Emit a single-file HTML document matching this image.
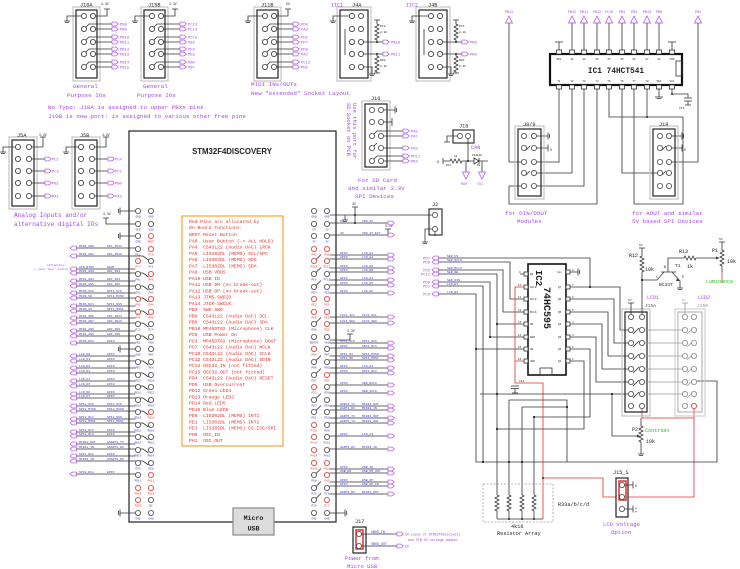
<!DOCTYPE html>
<html><head><meta charset="utf-8">
<style>
html,body{margin:0;padding:0;background:#fff;}
svg{display:block;}
text{font-family:"Liberation Mono","DejaVu Sans Mono",monospace;}
.pu{fill:#a844e8;}
.bl{fill:#3434d0;}
.rd{fill:#e5302a;}
.gr{fill:#22bb22;}
.k{fill:#222;}
.pl{font-size:3.8px;fill:#a844e8;}
.sl{font-size:3.1px;fill:#3434d0;}
.pn{font-size:2.8px;fill:#3434d0;text-anchor:middle;}
.pr{font-size:2.8px;fill:#e5302a;text-anchor:middle;}
.t6{font-size:5.9px;fill:#a844e8;}
.t5{font-size:5.2px;fill:#222;}
</style></head><body>
<svg width="740" height="569" viewBox="0 0 740 569" xmlns="http://www.w3.org/2000/svg">
<defs>
<circle id="c" r="2.6"/>
<path id="ar" d="M0,-1.9h4l2.4,1.9l-2.4,1.9h-4z"/>
<path id="al" d="M0,0l2.4,-1.9h4v3.8h-4z"/>
<path id="tu" d="M0,0l3.5,7h-7z"/>
<path id="td" d="M0,0l3.5,-7h-7z"/>
<g id="conn">
 <rect x="-3" y="7" width="27" height="74" fill="none" stroke="#b8b8b8"/>
 <rect x="0" y="10" width="21" height="68" fill="none" stroke="#222" stroke-width="1.2"/>
 <path fill="none" stroke="#333" stroke-width=".8" d="M5.4,16H-9V21M-12,21h6M-11,22.5h4M19.6,16H31V9M28,9h6M10,27L13,24H36M19.6,29H36M10,40L13,37H36M19.6,42H36M10,52L13,49H36M19.6,54H36M10,65L13,62H36M19.6,67H36"/>
 <g fill="#fff" stroke="#333" stroke-width=".8">
  <use href="#c" x="8" y="16"/><use href="#c" x="17" y="16"/>
  <use href="#c" x="8" y="29"/><use href="#c" x="17" y="29"/>
  <use href="#c" x="8" y="42"/><use href="#c" x="17" y="42"/>
  <use href="#c" x="8" y="54"/><use href="#c" x="17" y="54"/>
  <use href="#c" x="8" y="67"/><use href="#c" x="17" y="67"/>
 </g>
 <g fill="none" stroke="#a844e8" stroke-width=".6">
  <use href="#ar" x="36" y="24"/><use href="#ar" x="36" y="29"/>
  <use href="#ar" x="36" y="37"/><use href="#ar" x="36" y="42"/>
  <use href="#ar" x="36" y="49"/><use href="#ar" x="36" y="54"/>
  <use href="#ar" x="36" y="62"/><use href="#ar" x="36" y="67"/>
 </g>
</g>
<g id="conn5">
 <rect x="-3" y="-3" width="28" height="72" fill="none" stroke="#b8b8b8"/>
 <rect x="0" y="0" width="22" height="66" fill="none" stroke="#222" stroke-width="1.2"/>
 <path fill="none" stroke="#333" stroke-width=".8" d="M3.4,7H-9V12M-12,12h6M-11,13.5h4M19.6,7H31V-3M28,-3h6M19.6,19H33M19.6,31H33M19.6,43H33M19.6,56H33M4,21l3,-5M4,33l3,-5M4,45l3,-5"/>
 <g fill="#fff" stroke="#333" stroke-width=".8">
  <use href="#c" x="6" y="7"/><use href="#c" x="17" y="7"/>
  <use href="#c" x="6" y="19"/><use href="#c" x="17" y="19"/>
  <use href="#c" x="6" y="31"/><use href="#c" x="17" y="31"/>
  <use href="#c" x="6" y="43"/><use href="#c" x="17" y="43"/>
  <use href="#c" x="6" y="56"/><use href="#c" x="17" y="56"/>
 </g>
 <g fill="none" stroke="#a844e8" stroke-width=".6">
  <use href="#ar" x="33" y="19"/><use href="#ar" x="33" y="31"/>
  <use href="#ar" x="33" y="43"/><use href="#ar" x="33" y="56"/>
 </g>
</g>
<g id="j4">
 <rect x="337" y="7" width="34" height="74" fill="none" stroke="#b8b8b8"/>
 <rect x="340" y="10" width="28" height="68" fill="none" stroke="#222" stroke-width="1.2"/>
 <path fill="none" stroke="#333" stroke-width=".8" d="M349.4,16H333V21M330,21h6M331,22.5h4M363.6,42H383M363.6,54H383M363.6,67H372V74M369,74h6M370,75.5h4M377,20V24l2,1l-4,2l4,2l-4,2l4,2l-4,2l4,2l-4,2l2,1V42M374,20h6M377,54V56l2,1l-4,2l4,2l-4,2l4,2l-4,2l4,2l-4,2l2,1V73M374,73h6M345,29v26"/>
 <g fill="#fff" stroke="#333" stroke-width=".8">
  <use href="#c" x="352" y="16"/><use href="#c" x="361" y="16"/>
  <use href="#c" x="352" y="29"/><use href="#c" x="361" y="29"/>
  <use href="#c" x="352" y="42"/><use href="#c" x="361" y="42"/>
  <use href="#c" x="352" y="54"/><use href="#c" x="361" y="54"/>
  <use href="#c" x="352" y="67"/><use href="#c" x="361" y="67"/>
 </g>
 <circle cx="377" cy="42" r="1" fill="#222"/><circle cx="377" cy="54" r="1" fill="#222"/>
 <g fill="none" stroke="#a844e8" stroke-width=".6"><use href="#ar" x="383" y="42"/><use href="#ar" x="383" y="54"/></g>
</g>
</defs>

<!-- ===== Top connectors ===== -->
<use href="#conn" transform="translate(76,0)"/>
<use href="#conn" transform="translate(144,0)"/>
<use href="#conn" transform="translate(257,0)"/>
<text x="80" y="6.5" class="t5">J10A</text><text x="101" y="5" style="font-size:3.2px" class="k">3.3V</text>
<text x="148" y="6.5" class="t5">J15B</text><text x="169" y="5" style="font-size:3.2px" class="k">3.3V</text>
<text x="261" y="6.5" class="t5">J11B</text><text x="286" y="5" style="font-size:3.2px" class="k">5V</text>
<g class="pl">
<text x="120" y="25.3">PB8</text><text x="120" y="30.3">PB9</text><text x="120" y="38.3">PB10</text><text x="120" y="43.3">PB11</text>
<text x="120" y="50.3">PB12</text><text x="120" y="55.3">PB13</text><text x="120" y="63.3">PB14</text><text x="120" y="68.3">PB15</text>
<text x="188" y="25.3">PC13</text><text x="188" y="30.3">PC14</text><text x="188" y="38.3">PC15</text><text x="188" y="43.3">PB2</text>
<text x="188" y="50.3">PE4</text><text x="188" y="55.3">PE5</text><text x="188" y="63.3">PB0</text><text x="188" y="68.3">PB7</text>
<text x="301" y="25.3">PD9</text><text x="301" y="30.3">PA3</text><text x="301" y="38.3">PD2</text><text x="301" y="43.3">PD7</text>
<text x="301" y="50.3">PD8</text><text x="301" y="55.3">PA2</text><text x="301" y="63.3">PC12</text><text x="301" y="68.3">PD5</text>
</g>
<text x="73" y="88" class="t6">General</text><text x="67" y="97" class="t6">Purpose IOs</text>
<text x="143" y="88" class="t6">General</text><text x="137" y="97" class="t6">Purpose IOs</text>
<text x="251" y="86" class="t6">MIDI INs/OUTs</text><text x="251" y="95" class="t6">New "extended" Socket Layout</text>
<text x="48" y="109" class="t6">No Typo: J10A is assigned to upper PBxx pins</text>
<text x="48" y="118" class="t6">J10B is new port: is assigned to various other free pins</text>

<!-- J4A / J4B -->
<use href="#j4"/>
<use href="#j4" transform="translate(79,0)"/>
<text x="331" y="6.5" style="font-size:5px" class="pu">IIC1</text><text x="352" y="6.5" class="t5">J4A</text>
<text x="406" y="6.5" style="font-size:5px" class="pu">IIC2</text><text x="428" y="6.5" class="t5">J4B</text>
<g class="pl"><text x="391" y="43.3">PB10</text><text x="391" y="55.3">PB11</text><text x="470" y="43.3">PB6</text><text x="470" y="55.3">PB9</text></g>
<g style="font-size:3px" class="k"><text x="380" y="27">R7a</text><text x="380" y="33">2.2k</text><text x="380" y="61">R8a</text><text x="380" y="67">2.2k</text>
<text x="459" y="27">R7b</text><text x="459" y="33">2.2k</text><text x="459" y="61">R8b</text><text x="459" y="67">2.2k</text></g>

<!-- J5A / J5B -->
<use href="#conn5" transform="translate(12,140)"/>
<use href="#conn5" transform="translate(75,140)"/>
<text x="17" y="137" class="t5">J5A</text><text x="39" y="136" style="font-size:3.2px" class="k">3.3V</text>
<text x="80" y="137" class="t5">J5B</text><text x="102" y="136" style="font-size:3.2px" class="k">3.3V</text>
<g class="pl">
<text x="52" y="160.3">PC1</text><text x="52" y="172.3">PC2</text><text x="52" y="184.3">PB1</text><text x="52" y="197.3">PA1</text>
<text x="115" y="160.3">PC4</text><text x="115" y="172.3">PC5</text><text x="115" y="184.3">PB0</text><text x="115" y="197.3">PA3</text>
</g>
<text x="14" y="217" class="t6" style="font-size:6.1px">Analog Inputs and/or</text>
<text x="14" y="226" class="t6" style="font-size:6.1px">alternative digital IOs</text>

<!-- ===== STM32 board ===== -->
<rect x="129" y="131" width="207" height="391" fill="none" stroke="#222" stroke-width="1.2"/>
<text x="232" y="154" text-anchor="middle" style="font-family:'Liberation Sans',sans-serif;font-weight:bold;font-size:7.8px" class="k">STM32F4DISCOVERY</text>

<!-- left side lines -->
<path fill="none" stroke="#333" stroke-width=".8" d="
M76,248H135.4M76,256H143L148.5,260
M76,269H135.4M76,273H143L148.5,277
M76,281H135.4M76,286H143L148.5,290
M76,293H135.4M76,298H143L148.5,302
M76,306H135.4M76,311H143L148.5,315
M76,318H135.4M76,323H143L148.5,327
M76,331H135.4M76,336H143L148.5,340
M76,343H135.4
M76,356H135.4M76,361H143L148.5,365
M76,368H135.4M76,373H143L148.5,377
M76,381H135.4M76,386H143L148.5,390
M76,394H135.4M76,398H143L148.5,402
M76,406H135.4M76,411H143L148.5,415
M76,419H135.4M76,423H143L148.5,427
M76,432H135.4M76,436H143L148.5,440
M76,444H135.4M76,449H143L148.5,453
M76,456H135.4M76,461H143L148.5,465
M76,474H135.4
M135.4,211H120M120,207.5v7M118.5,209v4
M135.4,224H106V218M103,218h6
M135.4,236H120M120,232.5v7M118.5,234v4
M135.4,349H120M120,345.5v7M118.5,347v4
M135.4,513H120M120,509.5v7M118.5,511v4"/>
<g fill="none" stroke="#a844e8" stroke-width=".6">
<use href="#al" x="70" y="248"/><use href="#al" x="70" y="256"/><use href="#al" x="70" y="269"/><use href="#al" x="70" y="273"/>
<use href="#al" x="70" y="281"/><use href="#al" x="70" y="286"/><use href="#al" x="70" y="293"/><use href="#al" x="70" y="298"/>
<use href="#al" x="70" y="306"/><use href="#al" x="70" y="311"/><use href="#al" x="70" y="318"/><use href="#al" x="70" y="323"/>
<use href="#al" x="70" y="331"/><use href="#al" x="70" y="336"/><use href="#al" x="70" y="343"/>
<use href="#al" x="70" y="356"/><use href="#al" x="70" y="361"/><use href="#al" x="70" y="368"/><use href="#al" x="70" y="373"/>
<use href="#al" x="70" y="381"/><use href="#al" x="70" y="386"/><use href="#al" x="70" y="394"/><use href="#al" x="70" y="398"/>
<use href="#al" x="70" y="406"/><use href="#al" x="70" y="411"/><use href="#al" x="70" y="419"/><use href="#al" x="70" y="423"/>
<use href="#al" x="70" y="432"/><use href="#al" x="70" y="436"/><use href="#al" x="70" y="444"/><use href="#al" x="70" y="449"/>
<use href="#al" x="70" y="456"/><use href="#al" x="70" y="461"/><use href="#al" x="70" y="474"/>
</g>
<g class="sl">
<text x="79" y="247.2">MIDI_AN0</text><text x="107" y="247.2">ADC_IN11</text>
<text x="79" y="255.2">MIDI_AN1</text><text x="107" y="255.2">ADC_IN10</text>
<text x="79" y="268.2">AIN_BTN0</text><text x="107" y="268.2">WKUP</text>
<text x="79" y="272.2">MIDI_AN3</text><text x="107" y="272.2">ADC_IN3</text>
<text x="79" y="280.2">MIDI_AN4</text><text x="107" y="280.2">ADC_IN4</text>
<text x="79" y="285.2">MIDI_AN5</text><text x="107" y="285.2">ADC_IN5</text>
<text x="79" y="292.2">MIOS_SCK</text><text x="107" y="292.2">SPI1_SCK</text>
<text x="79" y="297.2">MIOS_SO</text><text x="107" y="297.2">SPI1_MISO</text>
<text x="79" y="305.2">MIOS_RC1</text><text x="107" y="305.2">SPI1_NSS</text>
<text x="79" y="310.2">MIOS_SI</text><text x="107" y="310.2">SPI1_MOSI</text>
<text x="79" y="317.2">MIDI_AN6</text><text x="107" y="317.2">ADC_IN14</text>
<text x="79" y="322.2">MIDI_AN7</text><text x="107" y="322.2">ADC_IN15</text>
<text x="79" y="330.2">MIDI_AN8</text><text x="107" y="330.2">ADC_IN8</text>
<text x="79" y="335.2">MIDI_AN9</text><text x="107" y="335.2">ADC_IN9</text>
<text x="79" y="342.2">MIOS_RC2</text><text x="107" y="342.2">GPIO</text>
<text x="79" y="355.2">LCD_D0</text><text x="107" y="355.2">GPIO</text>
<text x="79" y="360.2">LCD_D1</text><text x="107" y="360.2">GPIO</text>
<text x="79" y="367.2">LCD_D2</text><text x="107" y="367.2">GPIO</text>
<text x="79" y="372.2">LCD_D3</text><text x="107" y="372.2">GPIO</text>
<text x="79" y="380.2">LCD_D4</text><text x="107" y="380.2">GPIO</text>
<text x="79" y="385.2">LCD_D5</text><text x="107" y="385.2">GPIO</text>
<text x="79" y="393.2">LCD_D6</text><text x="107" y="393.2">GPIO</text>
<text x="79" y="397.2">LCD_D7</text><text x="107" y="397.2">GPIO</text>
<text x="79" y="405.2">SPI2_SCK</text><text x="107" y="405.2">SPI2_SCK</text>
<text x="79" y="410.2">SPI2_MISO</text><text x="107" y="410.2">SPI2_MISO</text>
<text x="79" y="418.2">SPI2_RC1</text><text x="107" y="418.2">SPI2_NSS</text>
<text x="79" y="422.2">SPI2_MOSI</text><text x="107" y="422.2">SPI2_MOSI</text>
<text x="79" y="431.2">SPI2_RC2</text><text x="107" y="431.2">GPIO</text>
<text x="79" y="435.2">SPI2_RC3</text><text x="107" y="435.2">GPIO</text>
<text x="79" y="443.2">MIDI1_OUT</text><text x="107" y="443.2">USART3_TX</text>
<text x="79" y="448.2">MIDI1_IN</text><text x="107" y="448.2">USART3_RX</text>
<text x="79" y="455.2">SPI1_RC2</text><text x="107" y="455.2">GPIO</text>
<text x="79" y="460.2">MIDI3_IN</text><text x="107" y="460.2">USART6_RX</text>
<text x="79" y="473.2">SPI0_RC1</text><text x="107" y="473.2">GPIO</text>
</g>
<text x="47" y="266" style="font-size:2.8px" class="pu">(Attention:</text>
<text x="33" y="270" style="font-size:2.8px" class="pu">-&gt; push 'User' button</text>
<text x="103" y="215" style="font-size:3.2px" class="k">3.3V</text>

<!-- board pin circles -->
<g fill="#fff" stroke="#444" stroke-width=".8">
<use href="#c" x="138" y="211"/><use href="#c" x="138" y="224"/><use href="#c" x="138" y="236"/><use href="#c" x="138" y="249"/><use href="#c" x="138" y="274"/><use href="#c" x="138" y="287"/><use href="#c" x="138" y="324"/><use href="#c" x="138" y="337"/><use href="#c" x="138" y="349"/><use href="#c" x="138" y="362"/><use href="#c" x="138" y="375"/><use href="#c" x="138" y="387"/><use href="#c" x="138" y="400"/><use href="#c" x="138" y="412"/><use href="#c" x="138" y="425"/><use href="#c" x="138" y="437"/><use href="#c" x="138" y="450"/><use href="#c" x="138" y="463"/><use href="#c" x="138" y="475"/><use href="#c" x="138" y="513"/>
<use href="#c" x="151" y="211"/><use href="#c" x="151" y="224"/><use href="#c" x="151" y="261"/><use href="#c" x="151" y="287"/><use href="#c" x="151" y="324"/><use href="#c" x="151" y="337"/><use href="#c" x="151" y="349"/><use href="#c" x="151" y="362"/><use href="#c" x="151" y="375"/><use href="#c" x="151" y="387"/><use href="#c" x="151" y="400"/><use href="#c" x="151" y="425"/><use href="#c" x="151" y="437"/><use href="#c" x="151" y="450"/><use href="#c" x="151" y="463"/><use href="#c" x="151" y="500"/><use href="#c" x="151" y="513"/>
<use href="#c" x="314" y="211"/><use href="#c" x="314" y="224"/><use href="#c" x="314" y="236"/><use href="#c" x="314" y="274"/><use href="#c" x="314" y="287"/><use href="#c" x="314" y="324"/><use href="#c" x="314" y="337"/><use href="#c" x="314" y="362"/><use href="#c" x="314" y="375"/><use href="#c" x="314" y="400"/><use href="#c" x="314" y="412"/><use href="#c" x="314" y="475"/><use href="#c" x="314" y="488"/><use href="#c" x="314" y="500"/><use href="#c" x="314" y="513"/>
<use href="#c" x="327" y="211"/><use href="#c" x="327" y="224"/><use href="#c" x="327" y="236"/><use href="#c" x="327" y="274"/><use href="#c" x="327" y="287"/><use href="#c" x="327" y="337"/><use href="#c" x="327" y="349"/><use href="#c" x="327" y="362"/><use href="#c" x="327" y="387"/><use href="#c" x="327" y="400"/><use href="#c" x="327" y="412"/><use href="#c" x="327" y="425"/><use href="#c" x="327" y="437"/><use href="#c" x="327" y="450"/><use href="#c" x="327" y="488"/><use href="#c" x="327" y="513"/>
</g>
<g fill="#fff" stroke="#e5302a" stroke-width=".8">
<use href="#c" x="138" y="261"/><use href="#c" x="138" y="299"/><use href="#c" x="138" y="312"/><use href="#c" x="138" y="488"/><use href="#c" x="138" y="500"/>
<use href="#c" x="151" y="236"/><use href="#c" x="151" y="249"/><use href="#c" x="151" y="274"/><use href="#c" x="151" y="299"/><use href="#c" x="151" y="312"/><use href="#c" x="151" y="412"/><use href="#c" x="151" y="475"/><use href="#c" x="151" y="488"/>
<use href="#c" x="314" y="249"/><use href="#c" x="314" y="261"/><use href="#c" x="314" y="299"/><use href="#c" x="314" y="312"/><use href="#c" x="314" y="349"/><use href="#c" x="314" y="387"/><use href="#c" x="314" y="425"/><use href="#c" x="314" y="437"/><use href="#c" x="314" y="450"/><use href="#c" x="314" y="463"/>
<use href="#c" x="327" y="249"/><use href="#c" x="327" y="261"/><use href="#c" x="327" y="299"/><use href="#c" x="327" y="312"/><use href="#c" x="327" y="324"/><use href="#c" x="327" y="375"/><use href="#c" x="327" y="463"/><use href="#c" x="327" y="475"/><use href="#c" x="327" y="500"/>
</g>
<!-- board pin labels -->
<g class="pn">
<text x="138" y="217.3">GND</text><text x="138" y="230.3">VDD</text><text x="138" y="242.3">GND</text><text x="138" y="255.3">PC1</text><text x="138" y="280.3">PA1</text><text x="138" y="293.3">PA3</text><text x="138" y="330.3">PC5</text><text x="138" y="343.3">PB1</text><text x="138" y="355.3">GND</text><text x="138" y="368.3">PE7</text><text x="138" y="381.3">PE9</text><text x="138" y="393.3">PE11</text><text x="138" y="406.3">PE13</text><text x="138" y="418.3">PE15</text><text x="138" y="431.3">PB11</text><text x="138" y="443.3">PB13</text><text x="138" y="456.3">PB15</text><text x="138" y="469.3">PD9</text><text x="138" y="481.3">PD11</text><text x="138" y="519.3">GND</text>
<text x="151" y="217.3">GND</text><text x="151" y="230.3">VDD</text><text x="151" y="267.3">PC2</text><text x="151" y="293.3">PA2</text><text x="151" y="330.3">PC4</text><text x="151" y="343.3">PB0</text><text x="151" y="355.3">PB2</text><text x="151" y="368.3">PE8</text><text x="151" y="381.3">PE10</text><text x="151" y="393.3">PE12</text><text x="151" y="406.3">PE14</text><text x="151" y="431.3">PB10</text><text x="151" y="443.3">PB12</text><text x="151" y="456.3">PB14</text><text x="151" y="469.3">PD8</text><text x="151" y="506.3">NC</text><text x="151" y="519.3">GND</text>
<text x="314" y="217.3">GND</text><text x="314" y="230.3">5V</text><text x="314" y="242.3">3V</text><text x="314" y="280.3">PE6</text><text x="314" y="293.3">PE4</text><text x="314" y="330.3">PB8</text><text x="314" y="343.3">BOOT0</text><text x="314" y="368.3">PB4</text><text x="314" y="381.3">PD7</text><text x="314" y="406.3">PD3</text><text x="314" y="418.3">PD1</text><text x="314" y="481.3">PA8</text><text x="314" y="494.3">PC8</text><text x="314" y="506.3">PC6</text><text x="314" y="519.3">GND</text>
<text x="327" y="217.3">GND</text><text x="327" y="230.3">5V</text><text x="327" y="242.3">3V</text><text x="327" y="280.3">PC13</text><text x="327" y="293.3">PE5</text><text x="327" y="343.3">VDD</text><text x="327" y="355.3">PB7</text><text x="327" y="368.3">PB5</text><text x="327" y="393.3">PD6</text><text x="327" y="406.3">PD4</text><text x="327" y="418.3">PD2</text><text x="327" y="431.3">PD0</text><text x="327" y="443.3">PC11</text><text x="327" y="456.3">PA15</text><text x="327" y="494.3">PC9</text><text x="327" y="519.3">GND</text>
</g>
<g class="pr">
<text x="138" y="267.3">PC3</text><text x="138" y="305.3">PA5</text><text x="138" y="318.3">PA7</text><text x="138" y="494.3">PD13</text><text x="138" y="506.3">PD15</text>
<text x="151" y="242.3">NRST</text><text x="151" y="255.3">PC0</text><text x="151" y="280.3">PA0</text><text x="151" y="305.3">PA4</text><text x="151" y="318.3">PA6</text><text x="151" y="418.3">PB10</text><text x="151" y="481.3">PD12</text><text x="151" y="494.3">PD14</text>
<text x="314" y="255.3">PH0</text><text x="314" y="267.3">PC14</text><text x="314" y="305.3">PE2</text><text x="314" y="318.3">PE0</text><text x="314" y="355.3">PB6</text><text x="314" y="393.3">PD5</text><text x="314" y="431.3">PC12</text><text x="314" y="443.3">PC10</text><text x="314" y="456.3">PA14</text><text x="314" y="469.3">PA10</text>
<text x="327" y="255.3">PH1</text><text x="327" y="267.3">PC15</text><text x="327" y="305.3">PE3</text><text x="327" y="318.3">PE1</text><text x="327" y="330.3">PB9</text><text x="327" y="381.3">PB3</text><text x="327" y="469.3">PA13</text><text x="327" y="481.3">PA9</text><text x="327" y="506.3">PC7</text>
</g>

<!-- right side lines -->
<path fill="none" stroke="#333" stroke-width=".8" d="
M329.6,215H432.4M345,215v5M342,220h6M343,221.5h4M355,207V223M352,207h6
M329.6,223H388M329.6,235H388M388,229V235M385,229h6
M329.6,255H388M329.6,259H388M329.6,268H388M329.6,272H388M329.6,280H388M329.6,285H388M329.6,293H388
M329.6,317H388M329.6,323H388M329.6,340H350V334M347,334h6
M329.6,343H388M329.6,348H388M329.6,356H388M329.6,360H388M329.6,368H388M329.6,373H388
M329.6,385H388M329.6,393H388M329.6,406H388M329.6,410H388M329.6,418H388M329.6,423H388
M329.6,436H388M329.6,449H388M329.6,469H388M329.6,473H388M329.6,482H388M329.6,486H388M329.6,494H388
M329.6,513H345M345,509.5v7M346.5,511v4
M316,259.5l5,-5M316,272.5l5,-5M316,285.5l5,-5M316,322.5l5,-5M316,360.5l5,-5M316,373.5l5,-5M316,398.5l5,-5M316,410.5l5,-5M316,473.5l5,-5M316,486.5l5,-5M316,498.5l5,-5
M435,231.6V236"/>
<circle cx="355" cy="215" r="1" fill="#222"/><circle cx="355" cy="223" r="1" fill="#222"/>
<text x="352" y="205" style="font-size:3.2px" class="k">3V</text>
<text x="385" y="227" style="font-size:3.2px" class="k">3.3V</text>
<text x="347" y="332" style="font-size:3.2px" class="k">3.3V</text>
<g fill="none" stroke="#a844e8" stroke-width=".6">
<use href="#ar" x="388" y="223"/><use href="#ar" x="388" y="235"/>
<use href="#ar" x="388" y="255"/><use href="#ar" x="388" y="259"/><use href="#ar" x="388" y="268"/><use href="#ar" x="388" y="272"/><use href="#ar" x="388" y="280"/><use href="#ar" x="388" y="285"/><use href="#ar" x="388" y="293"/>
<use href="#ar" x="388" y="317"/><use href="#ar" x="388" y="323"/><use href="#ar" x="388" y="343"/><use href="#ar" x="388" y="348"/><use href="#ar" x="388" y="356"/><use href="#ar" x="388" y="360"/><use href="#ar" x="388" y="368"/><use href="#ar" x="388" y="373"/>
<use href="#ar" x="388" y="385"/><use href="#ar" x="388" y="393"/><use href="#ar" x="388" y="406"/><use href="#ar" x="388" y="410"/><use href="#ar" x="388" y="418"/><use href="#ar" x="388" y="423"/>
<use href="#ar" x="388" y="436"/><use href="#ar" x="388" y="449"/><use href="#ar" x="388" y="469"/><use href="#ar" x="388" y="473"/><use href="#ar" x="388" y="482"/><use href="#ar" x="388" y="486"/><use href="#ar" x="388" y="494"/>
</g>
<g class="sl">
<text x="340" y="222.2">5V</text><text x="362" y="222.2">VDD_5V</text>
<text x="340" y="234.2">3V</text><text x="362" y="234.2">VDD_3V_EXT</text>
<text x="340" y="254.2">GPIO</text><text x="362" y="254.2">LCD_E1</text>
<text x="340" y="258.2">GPIO</text><text x="362" y="258.2">LCD_E2</text>
<text x="340" y="267.2">GPIO</text><text x="362" y="267.2">LCD_RS</text>
<text x="340" y="271.2">GPIO</text><text x="362" y="271.2">LCD_RW</text>
<text x="340" y="279.2">GPIO</text><text x="362" y="279.2">LCD_D4</text>
<text x="340" y="284.2">GPIO</text><text x="362" y="284.2">LCD_D5</text>
<text x="340" y="292.2">GPIO</text><text x="362" y="292.2">LCD_D6</text>
<text x="340" y="316.2">I2C1_SCL</text><text x="362" y="316.2">IIC1_SCL</text>
<text x="340" y="322.2">I2C1_SDA</text><text x="362" y="322.2">IIC1_SDA</text>
<text x="340" y="342.2">SPI1_SCK</text><text x="362" y="342.2">SPI1_SCK</text>
<text x="340" y="347.2">GPIO</text><text x="362" y="347.2">SPI1_RC1</text>
<text x="340" y="355.2">SPI1_MI</text><text x="362" y="355.2">SPI1_MISO</text>
<text x="340" y="359.2">SPI1_MO</text><text x="362" y="359.2">SPI1_MOSI</text>
<text x="340" y="367.2">GPIO</text><text x="362" y="367.2">LCD_D1</text>
<text x="340" y="372.2">GPIO</text><text x="362" y="372.2">SPI1_RC2</text>
<text x="340" y="384.2">GPIO</text><text x="362" y="384.2">SER_RCLK</text>
<text x="340" y="392.2">GPIO</text><text x="362" y="392.2">SER_SCLK</text>
<text x="340" y="405.2">UART4_TX</text><text x="362" y="405.2">MIDI4_OUT</text>
<text x="340" y="409.2">UART4_RX</text><text x="362" y="409.2">MIDI4_IN</text>
<text x="340" y="417.2">UART6_TX</text><text x="362" y="417.2">MIDI3_OUT</text>
<text x="340" y="422.2">UART5_TX</text><text x="362" y="422.2">MIDI2_OUT</text>
<text x="340" y="435.2">GPIO</text><text x="362" y="435.2">LCD_CS</text>
<text x="340" y="448.2">UART5_RX</text><text x="362" y="448.2">MIDI2_IN</text>
<text x="340" y="468.2">GPIO</text><text x="362" y="468.2">USB_ID</text>
<text x="340" y="472.2">USB_DM</text><text x="362" y="472.2">USB_DM_OUT</text>
<text x="340" y="481.2">GPIO</text><text x="362" y="481.2">USB_DP</text>
<text x="340" y="485.2">GPIO</text><text x="362" y="485.2">USB_DP_IN</text>
<text x="340" y="493.2">UART3_RX</text><text x="362" y="493.2">MIDI1_OUT</text>
</g>

<!-- Micro USB -->
<rect x="233" y="508" width="41" height="27" fill="#dcdcdc" stroke="#8a8a8a" stroke-width="1.2"/>
<text x="253.5" y="520" text-anchor="middle" style="font-weight:bold;font-size:6.6px" class="k">Micro</text>
<text x="253.5" y="530.5" text-anchor="middle" style="font-weight:bold;font-size:6.6px" class="k">USB</text>

<!-- Orange info box -->
<rect x="182" y="216" width="101" height="230" fill="none" stroke="#f0a020" stroke-width="1.1"/>
<text xml:space="preserve" style="font-size:4.7px" class="rd"><tspan x="189" y="223">Red Pins are allocated by</tspan><tspan x="189" y="229">On-Board Functions:</tspan><tspan x="189" y="236.2">NRST Reset Button</tspan><tspan x="189" y="242.4">PA0  User Button (-&gt; ALL HOLD)</tspan><tspan x="189" y="248.7">PA4  CS43L22 (Audio DAC) LRCK</tspan><tspan x="189" y="254.9">PA5  LIS302DL (MEMS) SCL/SPC</tspan><tspan x="189" y="261.2">PA6  LIS302DL (MEMS) SDO</tspan><tspan x="189" y="267.4">PA7  LIS302DL (MEMS) SDA</tspan><tspan x="189" y="273.6">PA9  USB VBUS</tspan><tspan x="189" y="279.9">PA10 USB ID</tspan><tspan x="189" y="286.1">PA11 USB DM (no break-out)</tspan><tspan x="189" y="292.4">PA12 USB DP (no break-out)</tspan><tspan x="189" y="298.6">PA13 JTMS-SWDIO</tspan><tspan x="189" y="304.8">PA14 JTCK-SWCLK</tspan><tspan x="189" y="311.1">PB3  SWD SWO</tspan><tspan x="189" y="317.3">PB6  CS43L22 (Audio DAC) SCL</tspan><tspan x="189" y="323.6">PB9  CS43L22 (Audio DAC) SDA</tspan><tspan x="189" y="329.8">PB10 MP45DT02 (Microphone) CLK</tspan><tspan x="189" y="336">PC0  USB Power On</tspan><tspan x="189" y="342.3">PC3  MP45DT02 (Microphone) DOUT</tspan><tspan x="189" y="348.5">PC7  CS43L22 (Audio DAC) MCLK</tspan><tspan x="189" y="354.8">PC10 CS43L22 (Audio DAC) SCLK</tspan><tspan x="189" y="361">PC12 CS43L22 (Audio DAC) SDIN</tspan><tspan x="189" y="367.2">PC14 OSC32_IN (not fitted)</tspan><tspan x="189" y="373.5">PC15 OSC32_OUT (not fitted)</tspan><tspan x="189" y="379.7">PD4  CS43L22 (Audio DAC) RESET</tspan><tspan x="189" y="386">PD5  USB Overcurrent</tspan><tspan x="189" y="392.2">PD12 Green LED4</tspan><tspan x="189" y="398.4">PD13 Orange LED3</tspan><tspan x="189" y="404.7">PD14 Red LED5</tspan><tspan x="189" y="410.9">PD15 Blue LED6</tspan><tspan x="189" y="417.2">PE0  LIS302DL (MEMS) INT1</tspan><tspan x="189" y="423.4">PE1  LIS302DL (MEMS) INT2</tspan><tspan x="189" y="429.6">PE3  LIS302DL (MEMS) CS_I2C/SPI</tspan><tspan x="189" y="435.9">PH0  OSC_IN</tspan><tspan x="189" y="442.1">PH1  OSC_OUT</tspan></text>

<!-- J2 -->
<rect x="429" y="209" width="13" height="26" fill="none" stroke="#222" stroke-width="1.1"/>
<path fill="none" stroke="#333" stroke-width=".8" d="M432.4,229H425V242M422,242h6M423,243.5h4"/>
<g fill="#fff" stroke="#444" stroke-width=".8"><use href="#c" x="435" y="215"/><use href="#c" x="435" y="229"/></g>
<text x="432" y="206" class="t5">J2</text>

<!-- J16 -->
<rect x="362" y="101" width="28" height="69" fill="none" stroke="#b8b8b8"/>
<rect x="365" y="104" width="22" height="63" fill="none" stroke="#222" stroke-width="1.2"/>
<path fill="none" stroke="#333" stroke-width=".8" d="M383.6,110H395M395,106.5v7M396.5,108v4M383.6,122H392M392,118v8M374,134l3,-3H403M383.6,136H403M383.6,148H403M374,159l3,-3H403M383.6,161H403M374,146l3,-3"/>
<g fill="#fff" stroke="#444" stroke-width=".8">
<use href="#c" x="372" y="110"/><use href="#c" x="381" y="110"/><use href="#c" x="372" y="122"/><use href="#c" x="381" y="122"/>
<use href="#c" x="372" y="136"/><use href="#c" x="381" y="136"/><use href="#c" x="372" y="148"/><use href="#c" x="381" y="148"/>
<use href="#c" x="372" y="161"/><use href="#c" x="381" y="161"/></g>
<g fill="none" stroke="#a844e8" stroke-width=".6"><use href="#ar" x="403" y="131"/><use href="#ar" x="403" y="136"/><use href="#ar" x="403" y="148"/><use href="#ar" x="403" y="156"/><use href="#ar" x="403" y="161"/></g>
<g class="pl"><text x="411" y="132.3">PA5</text><text x="411" y="137.3">PA7</text><text x="411" y="149.3">PB3</text><text x="411" y="157.3">PD11</text><text x="411" y="162.3">PB4</text></g>
<text x="371" y="100" class="t5">J16</text>
<text transform="translate(353,103) rotate(90)" style="font-size:5.5px" class="pu">Use this port for</text>
<text transform="translate(347,103) rotate(90)" style="font-size:5.5px" class="pu">SD Socket on PCB</text>
<text x="358" y="182" class="t6">For SD Card</text>
<text x="348" y="190" class="t6">and similar 3.3V</text>
<text x="355" y="198" class="t6">SPI Devices</text>

<!-- J18 CAN -->
<rect x="453" y="130" width="21" height="13" fill="none" stroke="#222" stroke-width="1.1"/>
<path fill="none" stroke="#333" stroke-width=".8" d="M457.4,136H447V142M444,142h6M468,138.6V161M443,158v6M443,161H450l1,-2l2,4l2,-4l2,4l2,-4l2,4l1,-2H474M474,158l5,3l-5,3zM479,158v6M479,161H488M466,161V172M482,161V172"/>
<circle cx="468" cy="161" r="1" fill="#222"/>
<g fill="#fff" stroke="#444" stroke-width=".8"><use href="#c" x="460" y="136"/><use href="#c" x="468" y="136"/></g>
<g fill="none" stroke="#a844e8" stroke-width=".7"><use href="#td" x="466" y="179"/><use href="#td" x="482" y="179"/></g>
<text x="459" y="127.5" class="t5">J18</text>
<text x="471" y="149" style="font-size:5.2px" class="pu">CAN</text>
<text x="437" y="163" style="font-size:4px" class="k">5</text>
<text x="446" y="166" style="font-size:2.8px" class="k">R11</text>
<text x="454" y="157" style="font-size:2.8px" class="k">10</text>
<text x="472" y="156" style="font-size:2.8px" class="k">1N4148</text>
<text x="477" y="166" style="font-size:2.8px" class="k">D1</text>
<text x="461" y="185" style="font-size:3.4px" class="pu">RX0</text>
<text x="477" y="185" style="font-size:3.4px" class="pu">TX1</text>

<!-- IC1 74HCT541 -->
<rect x="550" y="54" width="132" height="31" fill="none" stroke="#111" stroke-width="2.2"/>
<rect x="676" y="61" width="6" height="15" fill="none" stroke="#333" stroke-width=".8"/>
<text x="616" y="73" text-anchor="middle" style="font-weight:bold;font-size:7.8px" class="k">IC1 74HCT541</text>
<g fill="#fff" stroke="#333" stroke-width=".8">
<rect x="556.5" y="50" width="5" height="4"/><rect x="569.5" y="50" width="5" height="4"/><rect x="581.5" y="50" width="5" height="4"/><rect x="594.5" y="50" width="5" height="4"/><rect x="606.5" y="50" width="5" height="4"/><rect x="619.5" y="50" width="5" height="4"/><rect x="631.5" y="50" width="5" height="4"/><rect x="644.5" y="50" width="5" height="4"/><rect x="656.5" y="50" width="5" height="4"/><rect x="669.5" y="50" width="5" height="4"/>
<rect x="556.5" y="85" width="5" height="4"/><rect x="569.5" y="85" width="5" height="4"/><rect x="581.5" y="85" width="5" height="4"/><rect x="594.5" y="85" width="5" height="4"/><rect x="606.5" y="85" width="5" height="4"/><rect x="619.5" y="85" width="5" height="4"/><rect x="631.5" y="85" width="5" height="4"/><rect x="644.5" y="85" width="5" height="4"/><rect x="656.5" y="85" width="5" height="4"/><rect x="669.5" y="85" width="5" height="4"/>
</g>
<g style="font-size:2.6px" class="k" text-anchor="middle">
<text x="559" y="60">OE1</text><text x="572" y="60">A1</text><text x="584" y="60">A2</text><text x="597" y="60">A3</text><text x="609" y="60">A4</text><text x="622" y="60">A5</text><text x="634" y="60">A6</text><text x="647" y="60">A7</text><text x="659" y="60">A8</text><text x="672" y="60">GND</text>
<text x="559" y="82">Y1</text><text x="572" y="82">Y2</text><text x="584" y="82">Y3</text><text x="597" y="82">Y4</text><text x="609" y="82">Y5</text><text x="622" y="82">Y6</text><text x="634" y="82">Y7</text><text x="647" y="82">Y8</text><text x="659" y="82">OE2</text><text x="672" y="82">VCC</text>
</g>
<path fill="none" stroke="#333" stroke-width=".8" d="
M559,50V42M555,42h8M672,50V42M668,42h8
M572,50V23M584,50V23M597,50V23M609,50V23M622,50V23M634,50V23M647,50V23M659,50V23
M509,23V162H521.4M509,186V204H597V89M509,186H521.4
M559,89V162H536.6M572,89V173H536.6M584,89V186H536.6
M609,89V117H683V204H634V89M647,89V117
M622,89V173H657.4
M659,89V97M655,97h8M656.5,98.5h5
M672,89V94H688V98M684,98h8M684,101h8M688,101V105M685,105h6
M536.6,136H548M548,132.5v7M549.5,134v4M536.6,148H548M548,144.5v7
M671.6,136H682M682,132.5v7M683.5,134v4M671.6,148H682M682,144.5v7
M698,23V162H671.6
M526,150l4,-4M526,175l4,-4M662,150l4,-4M662,175l4,-4"/>
<circle cx="672" cy="94" r="1" fill="#222"/><circle cx="647" cy="117" r="1" fill="#222"/>
<text x="679" y="109" style="font-size:3px" class="k">C15</text>
<text x="550" y="151" style="font-size:3.5px" class="k">5</text><text x="684" y="151" style="font-size:3.5px" class="k">5</text>
<g fill="none" stroke="#a844e8" stroke-width=".7">
<use href="#tu" x="509" y="16"/><use href="#tu" x="572" y="16"/><use href="#tu" x="584" y="16"/><use href="#tu" x="597" y="16"/><use href="#tu" x="609" y="16"/><use href="#tu" x="622" y="16"/><use href="#tu" x="634" y="16"/><use href="#tu" x="647" y="16"/><use href="#tu" x="659" y="16"/><use href="#tu" x="698" y="16"/>
</g>
<g style="font-size:3.4px" class="pu" text-anchor="middle">
<text x="509" y="13">PB14</text><text x="572" y="13">PB15</text><text x="584" y="13">PB11</text><text x="597" y="13">PB12</text><text x="609" y="13">PC10</text><text x="622" y="13">PB1</text><text x="634" y="13">PB3</text><text x="647" y="13">PB13</text><text x="659" y="13">PB8</text><text x="698" y="13">PB4</text>
</g>

<!-- J8/9 and J19 -->
<rect x="515" y="126" width="29" height="73" fill="none" stroke="#b8b8b8"/>
<rect x="518" y="129" width="23" height="67" fill="none" stroke="#222" stroke-width="1.2"/>
<rect x="650" y="126" width="28" height="73" fill="none" stroke="#b8b8b8"/>
<rect x="653" y="129" width="22" height="67" fill="none" stroke="#222" stroke-width="1.2"/>
<g fill="#fff" stroke="#444" stroke-width=".8">
<use href="#c" x="524" y="136"/><use href="#c" x="534" y="136"/><use href="#c" x="524" y="148"/><use href="#c" x="534" y="148"/><use href="#c" x="524" y="162"/><use href="#c" x="534" y="162"/><use href="#c" x="524" y="173"/><use href="#c" x="534" y="173"/><use href="#c" x="524" y="186"/><use href="#c" x="534" y="186"/>
<use href="#c" x="660" y="136"/><use href="#c" x="669" y="136"/><use href="#c" x="660" y="148"/><use href="#c" x="669" y="148"/><use href="#c" x="660" y="162"/><use href="#c" x="669" y="162"/><use href="#c" x="660" y="173"/><use href="#c" x="669" y="173"/><use href="#c" x="660" y="186"/><use href="#c" x="669" y="186"/>
</g>
<text x="523" y="126" class="t5">J8/9</text>
<text x="659" y="126" class="t5">J19</text>
<text x="505" y="215" class="t6">for DIN/DOUT</text><text x="517" y="223" class="t6">Modules</text>
<text x="632" y="215" class="t6">for AOUT and similar</text><text x="632" y="223" class="t6">5V based SPI Devices</text>

<!-- Shift register ports -->
<g class="pl" text-anchor="end">
<text x="430" y="259.3">PD7</text><text x="430" y="263.3">PD6</text><text x="430" y="271.3">PD3</text><text x="430" y="275.3">PC12</text><text x="430" y="283.3">PD0</text><text x="430" y="287.3">PD1</text><text x="430" y="295.3">PC6</text>
</g>
<g fill="none" stroke="#a844e8" stroke-width=".6">
<use href="#al" x="432" y="258"/><use href="#al" x="432" y="262"/><use href="#al" x="432" y="270"/><use href="#al" x="432" y="274"/><use href="#al" x="432" y="282"/><use href="#al" x="432" y="286"/><use href="#al" x="432" y="294"/>
</g>
<g class="sl">
<text x="447" y="257.2">SER_CS</text><text x="447" y="261.2">SER_SCLK</text><text x="447" y="269.2">SER_RCLK</text><text x="447" y="273.2">SER_OE</text><text x="447" y="281.2">SER_DIN</text><text x="447" y="285.2">LCD_E1</text><text x="447" y="293.2">LCD_E2</text>
</g>
<path fill="none" stroke="#333" stroke-width=".8" d="
M438.4,258H590V287
M438.4,262H510V299H524
M438.4,270H503V312H524
M438.4,274H497V495
M438.4,282H490V337H524
M438.4,286H483V462
M438.4,294H476V462H717V381H696.6
M497,324H524
M524,349H476
M524,274H520
M570,272H578M578,268.5v7M579.5,270v4
M570,287H620V330H628.4
M570,299H614V343H628.4
M570,312H608V356H628.4
M570,324H602V369H628.4
M570,337H596V382H628.4
M570,349H590V417H534V495
M570,361H584V429H497
M509,400H567V462
M522,407H567
M509,400V495M522,407V495
M628.4,394H612V436H637
M480,394H612
"/>
<g fill="#222"><circle cx="590" cy="287" r="1.1"/><circle cx="497" cy="324" r="1.1"/><circle cx="490" cy="337" r="1.1"/><circle cx="476" cy="349" r="1.1"/><circle cx="483" cy="462" r="1.1"/><circle cx="509" cy="462" r="1.1"/><circle cx="497" cy="429" r="1.1"/><circle cx="534" cy="417" r="1.1"/><circle cx="522" cy="462" r="1.1"/><circle cx="567" cy="407" r="1.1"/><circle cx="612" cy="394" r="1.1"/><circle cx="497" cy="394" r="1.1"/></g>

<!-- IC2 74HC595 -->
<rect x="528" y="264" width="38" height="111" fill="#fff" stroke="#111" stroke-width="1.6"/>
<rect x="540" y="368" width="12" height="7" fill="none" stroke="#333" stroke-width=".8"/>
<g fill="#fff" stroke="#333" stroke-width=".8">
<rect x="524" y="272" width="4" height="4"/><rect x="524" y="285" width="4" height="4"/><rect x="524" y="297" width="4" height="4"/><rect x="524" y="310" width="4" height="4"/><rect x="524" y="322" width="4" height="4"/><rect x="524" y="335" width="4" height="4"/><rect x="524" y="347" width="4" height="4"/><rect x="524" y="359" width="4" height="4"/>
<rect x="566" y="270" width="4" height="4"/><rect x="566" y="285" width="4" height="4"/><rect x="566" y="297" width="4" height="4"/><rect x="566" y="310" width="4" height="4"/><rect x="566" y="322" width="4" height="4"/><rect x="566" y="335" width="4" height="4"/><rect x="566" y="347" width="4" height="4"/><rect x="566" y="359" width="4" height="4"/>
</g>
<g style="font-size:2.7px" class="k">
<text x="530" y="275">Q8</text><text x="530" y="288">SCLR</text><text x="530" y="300">SCLK</text><text x="530" y="313">RCLK</text><text x="530" y="325">OE</text><text x="530" y="338">SER</text><text x="530" y="350">Q0</text><text x="530" y="362">VDD</text>
<text x="557" y="273">Vss</text><text x="558" y="288">Q7</text><text x="558" y="300">Q6</text><text x="558" y="313">Q5</text><text x="558" y="325">Q4</text><text x="558" y="338">Q3</text><text x="558" y="350">Q2</text><text x="558" y="362">Q1</text>
<text x="519" y="273">9</text><text x="518" y="286">10</text><text x="518" y="298">11</text><text x="518" y="311">12</text><text x="518" y="323">13</text><text x="518" y="336">14</text><text x="518" y="348">15</text><text x="518" y="360">16</text>
<text x="572" y="271">8</text><text x="572" y="286">7</text><text x="572" y="298">6</text><text x="572" y="311">5</text><text x="572" y="323">4</text><text x="572" y="336">3</text><text x="572" y="348">2</text><text x="572" y="360">1</text>
</g>
<text transform="translate(536,270) rotate(90)" style="font-weight:bold;font-size:9px" class="k">IC2</text>
<text transform="translate(544,287) rotate(90)" style="font-weight:bold;font-size:10px" class="k">74HC595</text>

<!-- red supply nets -->
<path fill="none" stroke="#e5302a" stroke-width=".8" d="M524,287H515V383H543V519M515,361H524M543,478H603V497H616M628,497H694V406M642,409V418H694M722,272V283"/>
<path fill="none" stroke="#333" stroke-width=".8" d="M511,386h8M511,388.5h8M515,388.5V393M512,393h6"/>
<text x="519" y="382" style="font-size:3px" class="k">C14</text>

<!-- Resistor array -->
<rect x="483" y="484" width="70" height="38" fill="none" stroke="#999" stroke-width=".7" stroke-dasharray="2,1.5"/>
<path fill="none" stroke="#333" stroke-width=".8" d="
M497,495l2,1l-4,2l4,2l-4,2l4,2l-4,2l4,2l-4,2l2,1V519
M509,495l2,1l-4,2l4,2l-4,2l4,2l-4,2l4,2l-4,2l2,1V519
M522,495l2,1l-4,2l4,2l-4,2l4,2l-4,2l4,2l-4,2l2,1V519
M534,495l2,1l-4,2l4,2l-4,2l4,2l-4,2l4,2l-4,2l2,1V519
M497,519H543"/>
<g fill="#222"><circle cx="509" cy="519" r="1"/><circle cx="522" cy="519" r="1"/><circle cx="534" cy="519" r="1"/><circle cx="543" cy="478" r="1"/></g>
<text x="558" y="506" style="font-size:5.2px" class="k">R33a/b/c/d</text>
<text x="511" y="528" style="font-size:5.2px" class="k">4k16</text>
<text x="497" y="535" style="font-size:5.2px" class="k">Resistor Array</text>

<!-- J15_S -->
<rect x="616" y="478" width="12" height="39" fill="none" stroke="#222" stroke-width="1.2"/>
<rect x="619" y="481" width="7" height="19" fill="none" stroke="#e5302a" stroke-width="1.5"/>
<path fill="none" stroke="#333" stroke-width=".8" d="M624.6,485H633M633,481.5v7M624.6,509H633M633,505.5v7"/>
<g fill="#fff" stroke="#444" stroke-width=".8"><use href="#c" x="622" y="485"/><use href="#c" x="622" y="497"/><use href="#c" x="622" y="509"/></g>
<text x="635" y="487" style="font-size:3.5px" class="k">5</text>
<text transform="translate(635,507) rotate(90)" style="font-size:3px" class="k">3.3</text>
<text x="613" y="474" class="t5">J15_S</text>
<text x="603" y="526" class="t6" style="font-size:5.6px">LCD Voltage</text>
<text x="611" y="534" class="t6" style="font-size:5.6px">Option</text>

<!-- LCD1 / LCD2 -->
<rect x="622" y="309" width="28" height="107" fill="none" stroke="#b8b8b8"/>
<rect x="625" y="312" width="22" height="100" fill="none" stroke="#222" stroke-width="1.2"/>
<rect x="675" y="309" width="30" height="107" fill="none" stroke="#c8c8c8"/>
<rect x="678" y="312" width="24" height="100" fill="none" stroke="#aaa" stroke-width="1"/>
<path fill="none" stroke="#999" stroke-width=".8" d="M644.6,330H682.4M644.6,343H682.4M644.6,356H682.4M644.6,369H682.4M644.6,382H682.4M644.6,394H682.4M687,334l5,-5M687,347l5,-5M687,360l5,-5M687,373l5,-5M687,386l5,-5M687,398l5,-5M685,314.4V303M682,303h6"/>
<path fill="none" stroke="#333" stroke-width=".8" d="M633,334l6,-6M633,347l6,-6M633,360l6,-6M633,373l6,-6M633,386l6,-6M633,398l6,-6M631,314.4V303M628,303h6M642,314.4V280H657L664,272M661,272H676M668,272V258H684l1,-2l2,4l2,-4l2,4l2,-4l2,4l1,-2H716M672,272L680,281V288M677,288h6M678,289.5h4M642,280V272l2,-1l-4,-2l4,-2l-4,-2l4,-2l-4,-2l4,-2l-4,-2l2,-1V248M639,248h6M722,242V250l2,1l-4,2l4,2l-4,2l4,2l-4,2l4,2l-4,2l2,1V272M719,242h6M641,418V426l2,1l-4,2l4,2l-4,2l4,2l-4,2l4,2l-4,2l2,1V454M638,454h6M639,455.5h4"/>
<path d="M716,256.5l3.5,1.5l-3.5,1.5zM637,434.5l3,1.5l-3,1.5zM677,278.5l2.5,2.5l-3.5,0z" fill="#333"/>
<circle cx="642" cy="280" r="1.1" fill="#222"/>
<g fill="#fff" stroke="#444" stroke-width=".8">
<use href="#c" x="631" y="317"/><use href="#c" x="642" y="317"/><use href="#c" x="631" y="330"/><use href="#c" x="642" y="330"/><use href="#c" x="631" y="343"/><use href="#c" x="642" y="343"/><use href="#c" x="631" y="356"/><use href="#c" x="642" y="356"/><use href="#c" x="631" y="369"/><use href="#c" x="642" y="369"/><use href="#c" x="631" y="382"/><use href="#c" x="642" y="382"/><use href="#c" x="631" y="394"/><use href="#c" x="642" y="394"/><use href="#c" x="631" y="406"/><use href="#c" x="642" y="406"/>
</g>
<g fill="#fff" stroke="#888" stroke-width=".8">
<use href="#c" x="685" y="317"/><use href="#c" x="694" y="317"/><use href="#c" x="685" y="330"/><use href="#c" x="694" y="330"/><use href="#c" x="685" y="343"/><use href="#c" x="694" y="343"/><use href="#c" x="685" y="356"/><use href="#c" x="694" y="356"/><use href="#c" x="685" y="369"/><use href="#c" x="694" y="369"/><use href="#c" x="685" y="382"/><use href="#c" x="694" y="382"/><use href="#c" x="685" y="394"/><use href="#c" x="685" y="406"/>
</g>
<circle cx="694" cy="394" r="2.6" fill="#fff" stroke="#888" stroke-width=".8"/>
<circle cx="694" cy="406" r="2.6" fill="#fff" stroke="#e5302a" stroke-width=".8"/>
<text x="647" y="299" style="font-size:5px" class="pu">LCD1</text>
<text x="645" y="307" style="font-size:4.6px;fill:#555">J15A</text>
<text x="698" y="299" style="font-size:5px" class="pu">LCD2</text>
<text x="697" y="307" style="font-size:4.6px;fill:#999">J15B</text>
<text x="628" y="301" style="font-size:3px" class="k">5V</text>
<text x="682" y="301" style="font-size:3px;fill:#999">5V</text>
<text x="639" y="246" style="font-size:3px" class="k">5V</text>
<text x="719" y="240" style="font-size:3px" class="k">5V</text>
<text x="629" y="257" style="font-size:5px" class="k">R12</text>
<text x="645" y="271" style="font-size:5px" class="k">10k</text>
<text x="679" y="253" style="font-size:5px" class="k">R13</text>
<text x="687" y="268" style="font-size:5px" class="k">1k</text>
<text x="712" y="252" style="font-size:5px" class="k">P1</text>
<text x="727" y="263" style="font-size:5px" class="k">10k</text>
<text x="675" y="267" style="font-size:4.5px" class="k">T1</text>
<text x="664" y="268" style="font-size:3.5px" class="k">B</text>
<text x="656" y="278" style="font-size:3.5px" class="k">C</text>
<text x="682" y="278" style="font-size:3.5px" class="k">E</text>
<text x="659" y="286" style="font-size:4.6px" class="k">BC337</text>
<text x="706" y="283" style="font-size:5px" class="gr">Luminance</text>
<text x="632" y="431" style="font-size:5px" class="k">P2</text>
<text x="645" y="432" style="font-size:5.2px" class="gr">Contrast</text>
<text x="646" y="443" style="font-size:5px" class="k">10k</text>

<!-- J17 -->
<rect x="353" y="527" width="13" height="26" fill="none" stroke="#222" stroke-width="1.2"/>
<rect x="356" y="530" width="7" height="19" fill="none" stroke="#e5302a" stroke-width="1.5"/>
<path fill="none" stroke="#333" stroke-width=".8" d="M361.6,534H397M361.6,546H397"/>
<g fill="#fff" stroke="#444" stroke-width=".8"><use href="#c" x="359" y="534"/><use href="#c" x="359" y="546"/></g>
<g fill="none" stroke="#a844e8" stroke-width=".6"><use href="#ar" x="397" y="534"/><use href="#ar" x="397" y="546"/></g>
<text x="371" y="532.8" class="sl" style="font-size:3.3px">VBUS_IN</text>
<text x="371" y="544.8" class="sl" style="font-size:3.3px">VBUS_OUT</text>
<text x="405" y="535.3" style="font-size:3.3px" class="pu">5V input of STM32F4Discovery</text>
<text x="408" y="541" style="font-size:3.3px" class="pu">and PCB 5V voltage domain</text>
<text x="405" y="547.3" style="font-size:3.3px" class="pu">5V</text>
<text x="355" y="523" class="t5">J17</text>
<text x="345" y="560" class="t6" style="font-size:5.6px">Power from</text>
<text x="347" y="568" class="t6" style="font-size:5.6px">Micro USB</text>
</svg>
</body></html>
